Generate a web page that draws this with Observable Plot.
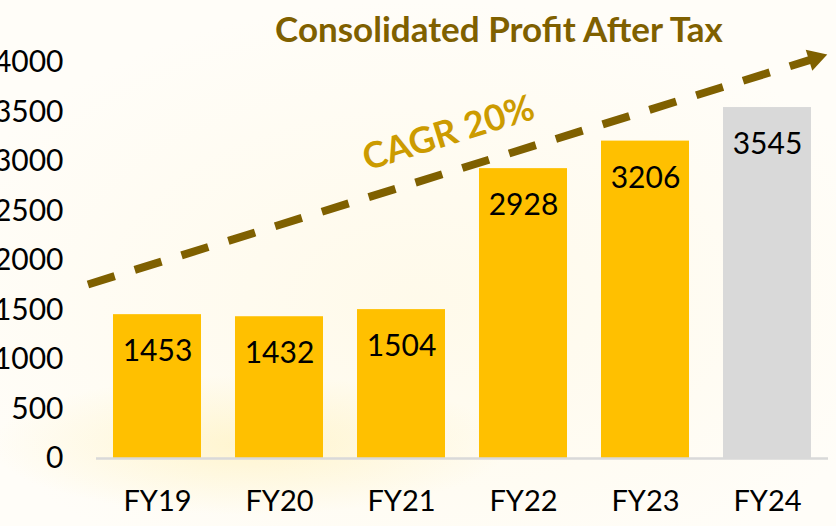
<!DOCTYPE html>
<html>
<head>
<meta charset="utf-8">
<script src="https://cdn.jsdelivr.net/npm/d3@7"></script>
<script src="https://cdn.jsdelivr.net/npm/@observablehq/plot@0.6"></script>
<style>
  html, body { margin: 0; padding: 0; }
  body {
    width: 836px; height: 526px; overflow: hidden;
    background:
      radial-gradient(ellipse 260px 70px at 250px 445px, rgba(255,232,140,0.35), rgba(255,240,190,0) 100%),
      radial-gradient(ellipse 500px 300px at 420px 300px, rgba(255,248,225,0.6), rgba(255,255,255,0) 100%),
      #FFFDF8;
  }
  #wrap { position: relative; width: 836px; height: 526px; }
  #title {
    position: absolute; left: 0; width: 836px; top: 7px; padding-left: 162px; box-sizing: border-box;
    text-align: center; font-family: Lato, sans-serif; font-weight: 700;
    font-size: 35px; color: #7F6000; z-index: 2; line-height: 42px;
  }
  #chart { position: absolute; left: 0; top: 0; }
  svg { background: transparent !important; }
</style>
</head>
<body>
<div id="wrap">
  <div id="title">Consolidated Profit After Tax</div>
  <div id="chart"></div>
</div>
<script>
// ---- data ----
const years = ["FY19", "FY20", "FY21", "FY22", "FY23", "FY24"];
const profit = [1453, 1432, 1504, 2928, 3206, 3545];
const status = ["actual", "actual", "actual", "actual", "actual", "latest"];
const yTicks = [0, 500, 1000, 1500, 2000, 2500, 3000, 3500, 4000];
const cagrLabel = "CAGR 20%";
// trend arrow, in data units (x = year index, y = profit)
const trendFrom = {pos: -0.57, value: 1758};
const trendTo = {pos: 5.39, value: 4042};
const labelAt = {pos: 2.385, value: 3283};

const rows = years.map((y, i) => ({i, year: y, value: profit[i], status: status[i]}));
const half = 0.3607;

const plot = Plot.plot({
  width: 836,
  height: 526,
  marginLeft: 96,
  marginRight: 8,
  marginTop: 62,
  marginBottom: 68,
  style: {fontFamily: "Lato, sans-serif", fontSize: "30px", color: "#000", background: "transparent", overflow: "visible"},
  x: {domain: [-0.5, 5.5], ticks: d3.range(years.length), tickFormat: i => years[i], tickSize: 0, tickPadding: 32, label: null},
  y: {domain: [0, 4000], ticks: yTicks, tickFormat: d => String(d), tickSize: 0, tickPadding: 33, label: null},
  color: {domain: ["actual", "latest"], range: ["#FFC000", "#D9D9D9"]},
  marks: [
    Plot.axisY({ticks: yTicks, tickFormat: d => String(d), tickSize: 0, tickPadding: 33, fontSize: 30, label: null}),
    Plot.axisX({ticks: d3.range(years.length), tickFormat: i => years[i], tickSize: 0, tickPadding: 32, fontSize: 29, label: null}),
    Plot.rectY(rows, {x1: d => d.i - half, x2: d => d.i + half, y: "value", fill: "status"}),
    Plot.ruleY([0], {stroke: "#D9D9D9", strokeWidth: 2.5}),
    Plot.text(rows, {x: "i", y: "value", text: d => String(d.value), dy: 37, fontSize: 30, fill: "#000"}),
    Plot.link([{a: trendFrom, b: trendTo}], {
      x1: d => d.a.pos, y1: d => d.a.value, x2: d => d.b.pos, y2: d => d.b.value,
      stroke: "#7F6000", strokeWidth: 8, strokeDasharray: "28 21", strokeLinecap: "butt"
    }),
    Plot.dot([trendTo], {x: "pos", y: "value", symbol: "triangle", r: 8.2, fill: "#7F6000", stroke: null, rotate: 72.7}),
    Plot.text([labelAt], {x: "pos", y: "value", text: () => cagrLabel, rotate: -17.3, fontSize: 36, fontWeight: 700, fill: "#CC9B00"})
  ]
});
document.getElementById("chart").appendChild(plot);
</script>
</body>
</html>
